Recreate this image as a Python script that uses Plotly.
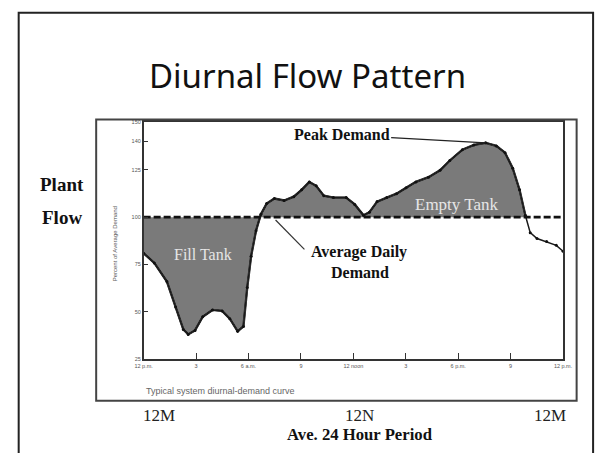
import numpy as np
import plotly.graph_objects as go

# Hour of day (0 = midnight) and demand as percent of the daily average
hours = [0.00, 0.61, 1.33, 1.83, 2.27, 2.55, 2.94, 3.38, 3.94, 4.49, 4.93, 5.38,
         5.71, 5.93, 6.15, 6.43, 6.71, 7.04, 7.48, 8.04, 8.59, 9.04, 9.48, 9.87,
         10.31, 10.86, 11.59, 12.08, 12.58, 12.92, 13.36, 13.91, 14.47, 15.02,
         15.58, 16.30, 16.96, 17.52, 18.24, 18.90, 19.57, 20.18, 20.68, 21.12,
         21.51, 21.84, 22.12, 22.51, 23.06, 23.61, 24.00]
demand = [80.9, 75.8, 66.0, 52.6, 40.7, 38.1, 40.2, 47.4, 51.0, 50.5, 46.4, 39.7,
          42.3, 62.9, 79.4, 92.8, 101.5, 107.2, 109.8, 108.8, 110.8, 114.4, 118.6,
          116.5, 111.3, 110.3, 110.3, 106.7, 101.0, 102.6, 108.2, 110.3, 112.4,
          115.5, 118.6, 121.1, 124.7, 129.9, 135.6, 138.1, 139.2, 137.6, 134.0,
          125.8, 114.4, 101.0, 91.8, 88.7, 87.1, 85.1, 82.0]
average_level = 100

x_tick_hours = [0, 3, 6, 9, 12, 15, 18, 21, 24]
x_tick_labels = ["12 p.m.", "3", "6 a.m.", "9", "12 noon", "3", "6 p.m.", "9", "12 p.m."]
y_tick_values = [25, 50, 75, 100, 125, 140, 150]
bottom_labels = ["12M", "12N", "12M"]

W, H = 606, 453


def px(x):
    return x / W


def py(y):
    return 1 - y / H


h = np.array(hours)
d = np.array(demand)

# The shaded region runs from midnight to the evening crossing of the average line
diff = d - average_level
cross_idx = np.where((diff[:-1] > 0) & (diff[1:] <= 0))[0][-1]
t = diff[cross_idx] / (diff[cross_idx] - diff[cross_idx + 1])
h_cross = h[cross_idx] + t * (h[cross_idx + 1] - h[cross_idx])
fill_h = np.append(h[:cross_idx + 1], h_cross)
fill_d = np.append(d[:cross_idx + 1], average_level)

fig = go.Figure()

# Baseline for the fill
fig.add_trace(go.Scatter(x=fill_h, y=[average_level] * len(fill_h), mode="lines",
                         line=dict(width=0, color="rgba(0,0,0,0)"),
                         hoverinfo="skip", showlegend=False))
fig.add_trace(go.Scatter(x=fill_h, y=fill_d, mode="lines", fill="tonexty",
                         fillcolor="#7a7a7a", line=dict(width=2.3, color="#1a1a1a"),
                         hoverinfo="skip", showlegend=False))
fig.add_trace(go.Scatter(x=fill_h, y=fill_d, mode="lines",
                         line=dict(width=0.8, color="#d8d8d8"),
                         hoverinfo="skip", showlegend=False))
# Full demand curve
fig.add_trace(go.Scatter(x=hours, y=demand, mode="lines+markers",
                         line=dict(width=1.5, color="#1a1a1a"),
                         marker=dict(size=3, color="#111111"),
                         showlegend=False))
# Average daily demand
fig.add_trace(go.Scatter(x=[0, 24], y=[average_level, average_level], mode="lines",
                         line=dict(width=2.8, color="#111111", dash="7px,3px"),
                         showlegend=False))

fig.update_layout(
    width=W, height=H,
    margin=dict(l=0, r=0, t=0, b=0),
    paper_bgcolor="white", plot_bgcolor="white",
    xaxis=dict(domain=[px(139), px(572)], range=[0, 24], tickvals=x_tick_hours,
               ticktext=x_tick_labels, ticks="inside", ticklen=6, tickwidth=1,
               tickcolor="#333", showgrid=False, zeroline=False, showline=True,
               linecolor="#333", linewidth=1.5, mirror=True,
               tickfont=dict(family="Arial, Liberation Sans", size=5.5, color="#555")),
    yaxis=dict(domain=[py(361), py(121)], range=[25, 150], tickvals=y_tick_values,
               ticks="inside", ticklen=5, tickwidth=1, tickcolor="#333",
               showgrid=False, zeroline=False, showline=True, linecolor="#333",
               linewidth=1.5, mirror=True,
               tickfont=dict(family="Arial, Liberation Sans", size=5.5, color="#555")),
)

shapes = [
    # slide frame
    dict(type="rect", xref="paper", yref="paper", x0=px(10), x1=px(603), y0=-0.05,
         y1=py(10), line=dict(color="#222", width=2)),
    # chart frame
    dict(type="rect", xref="paper", yref="paper", x0=px(90), x1=px(586), y0=py(403),
         y1=py(118), line=dict(color="#444", width=2)),
    # leader for the average demand label
    dict(type="line", xref="x", yref="y", x0=7.55, y0=98.5, x1=9.2, y1=83.0,
         line=dict(color="#333", width=1.2)),
]
fig.update_layout(shapes=shapes)

serif = "Liberation Serif, Times New Roman, serif"
annotations = [
    dict(text="Diurnal Flow Pattern", x=px(308), y=py(73), font=dict(family="Noto Sans, DejaVu Sans", size=33, color="#111")),
    dict(text="<b>Plant</b>", x=px(55), y=py(184), font=dict(family=serif, size=19, color="#111")),
    dict(text="<b>Flow</b>", x=px(55), y=py(217), font=dict(family=serif, size=19, color="#111")),
    dict(text="Percent of Average Demand", x=px(109), y=py(244), textangle=-90,
         font=dict(family="Arial, Liberation Sans", size=6, color="#555")),
    dict(text="Fill Tank", x=px(200), y=py(255), font=dict(family=serif, size=16, color="#e6e6e6")),
    dict(text="Empty Tank", x=px(462), y=py(204), font=dict(family=serif, size=17, color="#e6e6e6")),
    dict(text="<b>Average Daily</b>", x=px(361), y=py(252), font=dict(family=serif, size=16, color="#111")),
    dict(text="<b>Demand</b>", x=px(362), y=py(273), font=dict(family=serif, size=16, color="#111")),
    dict(text="Typical system diurnal-demand curve", x=px(139), y=py(393), xanchor="left",
         font=dict(family="Arial, Liberation Sans", size=9, color="#666")),
    dict(text=bottom_labels[0], x=px(155), y=py(418), font=dict(family=serif, size=17, color="#222")),
    dict(text=bottom_labels[1], x=px(362), y=py(418), font=dict(family=serif, size=17, color="#222")),
    dict(text=bottom_labels[2], x=px(558), y=py(418), font=dict(family=serif, size=17, color="#222")),
    dict(text="<b>Ave. 24 Hour Period</b>", x=px(362), y=py(437), font=dict(family=serif, size=16.7, color="#111")),
]
for a in annotations:
    a.setdefault("xref", "paper")
    a.setdefault("yref", "paper")
    a.setdefault("showarrow", False)
    a.setdefault("xanchor", "center")
    a.setdefault("yanchor", "middle")
    fig.add_annotation(**a)

# Peak demand call-out pointing at the highest point of the curve
peak_i = int(np.argmax(d))
fig.add_annotation(x=hours[peak_i], y=demand[peak_i], xref="x", yref="y",
                   text="<b>Peak Demand</b>", showarrow=True, arrowhead=0,
                   arrowwidth=1.2, arrowcolor="#222", ax=-144, ay=-8,
                   font=dict(family=serif, size=16, color="#111"))

fig.write_html("out.html")
